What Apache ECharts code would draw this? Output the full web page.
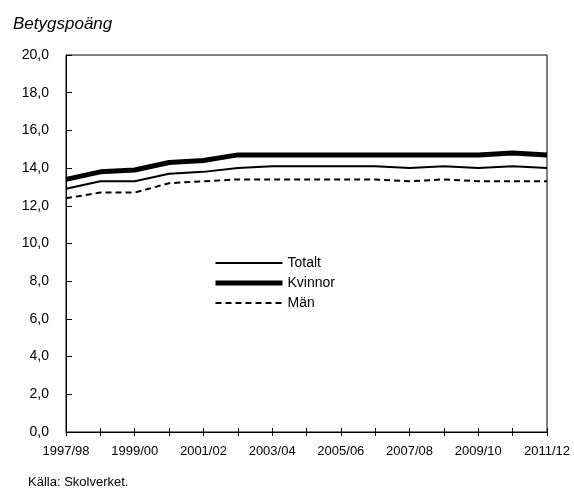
<!DOCTYPE html>
<html>
<head>
<meta charset="utf-8">
<script src="https://cdn.jsdelivr.net/npm/echarts@6/dist/echarts.min.js"></script>
<style>
  html, body { margin: 0; padding: 0; background: #fff; }
  #chart { width: 574px; height: 491px; }
</style>
</head>
<body>
<div id="chart"></div>
<script>
// data
var years = ['1997/98', '1998/99', '1999/00', '2000/01', '2001/02', '2002/03', '2003/04', '2004/05',
             '2005/06', '2006/07', '2007/08', '2008/09', '2009/10', '2010/11', '2011/12'];
var totalt  = [12.9, 13.3, 13.3, 13.7, 13.8, 14.0, 14.1, 14.1, 14.1, 14.1, 14.0, 14.1, 14.0, 14.1, 14.0];
var kvinnor = [13.4, 13.8, 13.9, 14.3, 14.4, 14.7, 14.7, 14.7, 14.7, 14.7, 14.7, 14.7, 14.7, 14.8, 14.7];
var man     = [12.4, 12.7, 12.7, 13.2, 13.3, 13.4, 13.4, 13.4, 13.4, 13.4, 13.3, 13.4, 13.3, 13.3, 13.3];

var font = '"Liberation Sans Narrow", "Liberation Sans", sans-serif';

function initChart() {
    var myChart = echarts.init(document.getElementById('chart'));

    var option = {
        animation: false,
        textStyle: { fontFamily: font },
        title: [{
            text: 'Betygspoäng',
            left: 8, top: 11,
            textStyle: { fontSize: 17, fontStyle: 'italic', fontWeight: 'normal', color: '#000', fontFamily: 'Liberation Sans' }
        }, {
            text: 'Källa: Skolverket.',
            left: 23, top: 471,
            textStyle: { fontSize: 13, fontWeight: 'normal', color: '#000', fontFamily: font }
        }],
        legend: {
            orient: 'vertical',
            left: 213, top: 256, padding: 0,
            itemWidth: 67, itemHeight: 14, itemGap: 6,
            itemStyle: { opacity: 0 },
            textStyle: { fontSize: 14, color: '#000', fontFamily: font },
            data: [
                { name: 'Totalt', lineStyle: { width: 2 } },
                { name: 'Kvinnor', lineStyle: { width: 5 } },
                { name: 'Män', lineStyle: { width: 2 } }
            ]
        },
        grid: {
            left: 66, right: 27, top: 55, bottom: 59,
            show: true, borderColor: '#000', borderWidth: 1
        },
        xAxis: [{
            type: 'category',
            data: years,
            boundaryGap: false,
            axisLine: { lineStyle: { color: '#000', width: 1 } },
            axisTick: { interval: 0, inside: false, length: 4, lineStyle: { color: '#000' } },
            axisLabel: { interval: 1, fontSize: 13, color: '#000', margin: 13, fontFamily: font },
            splitLine: { show: false }
        }, {
            type: 'category',
            data: years,
            boundaryGap: false,
            position: 'bottom',
            axisLine: { show: false },
            axisTick: { interval: 0, inside: true, length: 4, lineStyle: { color: '#000' } },
            axisLabel: { show: false },
            splitLine: { show: false }
        }],
        yAxis: {
            type: 'value',
            min: 0, max: 20, interval: 2,
            axisLine: { show: true, lineStyle: { color: '#000', width: 1 } },
            axisTick: { show: true, inside: true, length: 6, lineStyle: { color: '#000' } },
            axisLabel: {
                fontSize: 14, color: '#000', margin: 17, fontFamily: font,
                formatter: function (v) { return v.toFixed(1).replace('.', ','); }
            },
            splitLine: { show: false }
        },
        series: [{
            name: 'Totalt', type: 'line', data: totalt, symbol: 'none',
            lineStyle: { color: '#000', width: 2 }, itemStyle: { color: '#000' }
        }, {
            name: 'Kvinnor', type: 'line', data: kvinnor, symbol: 'none',
            lineStyle: { color: '#000', width: 5 }, itemStyle: { color: '#000' }
        }, {
            name: 'Män', type: 'line', data: man, symbol: 'none',
            lineStyle: { color: '#000', width: 2, type: [6, 4] }, itemStyle: { color: '#000' }
        }]
    };

    myChart.setOption(option);
}

initChart();
</script>
</body>
</html>
